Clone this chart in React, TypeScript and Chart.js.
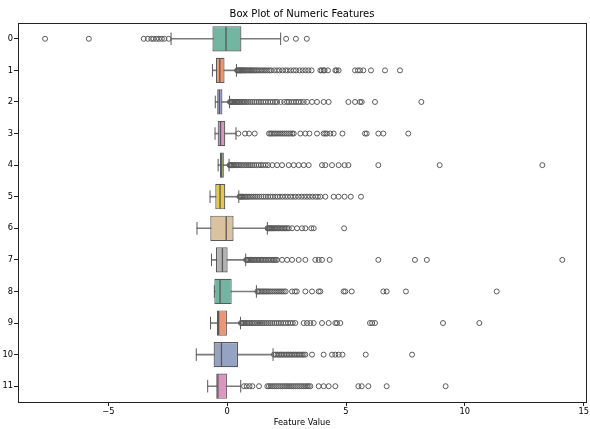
import { useEffect, useRef } from 'react';
import { Chart, registerables } from 'chart.js';

Chart.register(...registerables);

const features = ['0', '1', '2', '3', '4', '5', '6', '7', '8', '9', '10', '11'];
const whiskerLow = [-2.36, -0.62, -0.5, -0.51, -0.38, -0.72, -1.27, -0.66, -0.54, -0.7, -1.3, -0.82];
const q1 = [-0.62, -0.47, -0.42, -0.4, -0.31, -0.5, -0.71, -0.47, -0.54, -0.43, -0.57, -0.46];
const medians = [-0.05, -0.31, -0.33, -0.28, -0.23, -0.3, -0.04, -0.2, -0.3, -0.36, -0.24, -0.39];
const q3 = [0.6, -0.11, -0.2, -0.08, -0.14, -0.08, 0.27, 0.02, 0.19, -0.01, 0.46, -0.01];
const whiskerHigh = [2.25, 0.39, 0.1, 0.37, 0.08, 0.49, 1.69, 0.78, 1.23, 0.56, 1.93, 0.57];

const outliers0 = [-7.66, -5.82, -3.51, -3.34, -3.19, -3.1, -2.98, -2.87, -2.75, -2.64, -2.46, 2.48, 2.89, 3.35];
const outliers1 = [0.42, 0.45, 0.48, 0.52, 0.55, 0.58, 0.62, 0.66, 0.7, 0.74, 0.78, 0.83, 0.88, 0.93, 0.98, 1.03, 1.08, 1.14, 1.2, 1.26, 1.32, 1.4, 1.47, 1.55, 1.62, 1.7, 1.78, 1.85, 1.98, 2.1, 2.2, 2.33, 2.45, 2.55, 2.68, 2.8, 2.9, 3.05, 3.18, 3.3, 3.42, 3.55, 3.92, 3.98, 4.06, 4.1, 4.24, 4.55, 4.6, 4.69, 5.38, 5.5, 5.59, 5.73, 6.05, 6.64, 7.27];
const outliers2 = [0.12, 0.15, 0.18, 0.22, 0.26, 0.3, 0.35, 0.4, 0.45, 0.5, 0.56, 0.62, 0.68, 0.75, 0.82, 0.9, 0.98, 1.06, 1.15, 1.24, 1.33, 1.42, 1.52, 1.62, 1.72, 1.82, 1.92, 2.02, 2.1, 2.25, 2.4, 2.52, 2.6, 2.7, 2.8, 2.9, 3.0, 3.1, 3.22, 3.36, 3.57, 3.78, 4.06, 4.27, 5.1, 5.38, 5.59, 5.66, 6.22, 8.17];
const outliers3 = [0.47, 0.75, 0.92, 1.16, 1.76, 1.82, 1.88, 1.95, 2.02, 2.1, 2.18, 2.26, 2.34, 2.42, 2.5, 2.58, 2.66, 2.74, 2.8, 3.08, 3.29, 3.46, 3.78, 4.06, 4.13, 4.2, 4.34, 4.48, 4.85, 5.8, 5.87, 6.36, 6.57, 7.62];
const outliers4 = [0.1, 0.14, 0.18, 0.22, 0.27, 0.32, 0.38, 0.44, 0.5, 0.57, 0.64, 0.72, 0.8, 0.88, 0.96, 1.05, 1.14, 1.23, 1.32, 1.42, 1.52, 1.62, 1.72, 1.9, 2.1, 2.31, 2.59, 2.8, 3.01, 3.22, 3.43, 3.99, 4.13, 4.41, 4.69, 4.94, 5.1, 6.36, 8.94, 13.26];
const outliers5 = [0.52, 0.56, 0.6, 0.65, 0.7, 0.76, 0.82, 0.88, 0.95, 1.02, 1.1, 1.18, 1.26, 1.35, 1.44, 1.53, 1.62, 1.72, 1.82, 1.92, 2.02, 2.12, 2.22, 2.33, 2.44, 2.55, 2.66, 2.77, 2.88, 3.0, 3.12, 3.24, 3.36, 3.48, 3.6, 3.72, 3.82, 3.92, 4.13, 4.48, 4.69, 4.94, 5.2, 5.63];
const outliers6 = [1.7, 1.74, 1.78, 1.82, 1.86, 1.9, 1.95, 2.0, 2.05, 2.1, 2.16, 2.22, 2.28, 2.34, 2.4, 2.46, 2.52, 2.59, 2.73, 2.94, 3.15, 3.29, 3.54, 3.64, 4.92];
const outliers7 = [0.8, 0.84, 0.88, 0.93, 0.98, 1.03, 1.08, 1.14, 1.2, 1.26, 1.32, 1.38, 1.44, 1.5, 1.57, 1.64, 1.71, 1.78, 1.85, 1.92, 1.98, 2.04, 2.1, 2.31, 2.52, 2.73, 3.01, 3.29, 3.71, 3.85, 3.99, 4.31, 6.36, 7.9, 8.4, 14.1];
const outliers8 = [1.27, 1.32, 1.38, 1.44, 1.5, 1.56, 1.62, 1.68, 1.75, 1.82, 1.9, 1.98, 2.06, 2.14, 2.22, 2.3, 2.38, 2.46, 2.73, 2.85, 2.93, 3.29, 3.57, 3.85, 3.92, 4.9, 4.97, 5.24, 6.57, 6.71, 7.52, 11.34];
const outliers9 = [0.58, 0.62, 0.67, 0.72, 0.78, 0.84, 0.9, 0.97, 1.04, 1.11, 1.18, 1.26, 1.34, 1.42, 1.5, 1.58, 1.66, 1.74, 1.82, 1.9, 1.99, 2.08, 2.17, 2.26, 2.36, 2.46, 2.56, 2.66, 2.76, 2.87, 3.22, 3.36, 3.5, 3.64, 3.99, 4.27, 4.55, 4.62, 4.76, 6.01, 6.1, 6.22, 9.08, 10.61];
const outliers10 = [1.97, 2.04, 2.12, 2.18, 2.25, 2.31, 2.38, 2.46, 2.52, 2.59, 2.66, 2.73, 2.8, 2.87, 2.94, 3.01, 3.08, 3.15, 3.22, 3.29, 3.57, 4.06, 4.41, 4.55, 4.69, 4.85, 5.83, 7.78];
const outliers11 = [0.71, 0.82, 0.94, 1.06, 1.34, 1.69, 1.76, 1.84, 1.92, 2.0, 2.08, 2.16, 2.24, 2.32, 2.4, 2.48, 2.56, 2.64, 2.72, 2.8, 2.88, 2.96, 3.04, 3.12, 3.2, 3.28, 3.36, 3.43, 3.5, 3.85, 4.06, 4.27, 4.55, 5.52, 5.66, 5.94, 6.71, 9.19];
const allOutliers = [outliers0, outliers1, outliers2, outliers3, outliers4, outliers5, outliers6, outliers7, outliers8, outliers9, outliers10, outliers11];

const boxColors = ['#72b6a1', '#e99675', '#95a3c3', '#db96c0', '#a2c764', '#e5c849', '#dbc29e', '#b3b3b3', '#72b6a1', '#e99675', '#95a3c3', '#db96c0'];
const xTicks = [-5, 0, 5, 10, 15];
const xMin = -8.8;
const xMax = 15.1;

const LINE = '#595959';
const WHISKER = '#7a7a7a';
const AXIS = '#222222';
const FONT = 'DejaVu Sans';

const framePlugin = {
  id: 'frame',
  afterDraw(chart: any) {
    const { ctx, chartArea } = chart;
    ctx.save();
    ctx.strokeStyle = AXIS;
    ctx.lineWidth = 1;
    ctx.strokeRect(
      Math.round(chartArea.left) + 0.5,
      Math.round(chartArea.top) + 0.5,
      Math.round(chartArea.right) - Math.round(chartArea.left),
      Math.round(chartArea.bottom) - Math.round(chartArea.top)
    );
    ctx.restore();
  },
};

export default function App() {
  const canvasRef = useRef<HTMLCanvasElement | null>(null);

  useEffect(() => {
    if (!canvasRef.current) return;
    const outlierPoints: { x: number; y: string }[] = [];
    allOutliers.forEach((arr, i) => arr.forEach((v) => outlierPoints.push({ x: v, y: features[i] })));
    const capPoints: { x: number; y: string }[] = [];
    features.forEach((f, i) => {
      capPoints.push({ x: whiskerLow[i], y: f });
      capPoints.push({ x: whiskerHigh[i], y: f });
    });

    const chart = new Chart(canvasRef.current, {
      type: 'bar',
      data: {
        labels: features,
        datasets: [
          {
            type: 'scatter',
            data: outlierPoints,
            pointStyle: 'circle',
            pointRadius: 2.5,
            pointBorderWidth: 1,
            pointBorderColor: LINE,
            pointBackgroundColor: 'rgba(0,0,0,0)',
            order: 0,
          } as any,
          {
            type: 'scatter',
            data: features.map((f, i) => ({ x: medians[i], y: f })),
            pointStyle: 'line',
            pointRotation: 90,
            pointRadius: 12,
            pointBorderWidth: 1.3,
            pointBorderColor: LINE,
            order: 1,
          } as any,
          {
            type: 'scatter',
            data: capPoints,
            pointStyle: 'line',
            pointRotation: 90,
            pointRadius: 6.3,
            pointBorderWidth: 1,
            pointBorderColor: LINE,
            order: 2,
          } as any,
          {
            type: 'bar',
            data: features.map((_, i) => [q1[i], q3[i]]),
            backgroundColor: boxColors,
            borderColor: LINE,
            borderWidth: 1.2,
            borderSkipped: false,
            barPercentage: 0.8,
            categoryPercentage: 1,
            grouped: false,
            order: 3,
          } as any,
          {
            type: 'bar',
            data: features.map((_, i) => [whiskerLow[i], whiskerHigh[i]]),
            backgroundColor: WHISKER,
            borderWidth: 0,
            barThickness: 1,
            grouped: false,
            order: 4,
          } as any,
        ],
      },
      options: {
        indexAxis: 'y',
        responsive: false,
        animation: false,
        events: [],
        layout: { padding: { left: 0, right: 1, top: 0, bottom: 0 }, autoPadding: false } as any,
        plugins: {
          legend: { display: false },
          tooltip: { enabled: false },
          title: {
            display: true,
            text: 'Box Plot of Numeric Features',
            fullSize: false,
            color: '#000',
            font: { family: FONT, size: 10, weight: 'normal' },
            padding: { top: 8, bottom: 3 },
          },
        },
        scales: {
          x: {
            type: 'linear',
            min: xMin,
            max: xMax,
            afterBuildTicks: (s: any) => {
              s.ticks = xTicks.map((v) => ({ value: v }));
            },
            afterFit: (s: any) => {
              s.height = 27;
            },
            ticks: {
              color: '#000',
              font: { family: FONT, size: 8.3 },
              padding: 1,
              maxRotation: 0,
              autoSkip: false,
              callback: (v: any) => (Number(v) < 0 ? '\u2212' + Math.abs(Number(v)) : String(v)),
            },
            grid: { drawOnChartArea: false, drawTicks: true, tickLength: 4, color: AXIS, lineWidth: 1 },
            border: { display: true, color: AXIS, width: 1 },
            title: {
              display: true,
              text: 'Feature Value',
              color: '#000',
              font: { family: FONT, size: 8.3 },
              padding: { top: 0, bottom: 1 },
            },
          } as any,
          y: {
            type: 'category',
            afterFit: (s: any) => {
              s.width = 18;
            },
            ticks: {
              color: '#000',
              font: { family: FONT, size: 8.3 },
              padding: 1,
              autoSkip: false,
            },
            grid: { offset: false, drawOnChartArea: false, drawTicks: true, tickLength: 4, color: AXIS, lineWidth: 1 },
            border: { display: true, color: AXIS, width: 1 },
          } as any,
        },
      },
      plugins: [framePlugin],
    });

    return () => chart.destroy();
  }, []);

  return (
    <div style={{ position: 'absolute', left: 0, top: 0, width: 590, height: 429, background: '#fff' }}>
      <canvas ref={canvasRef} width={590} height={429} style={{ display: 'block' }} />
    </div>
  );
}
